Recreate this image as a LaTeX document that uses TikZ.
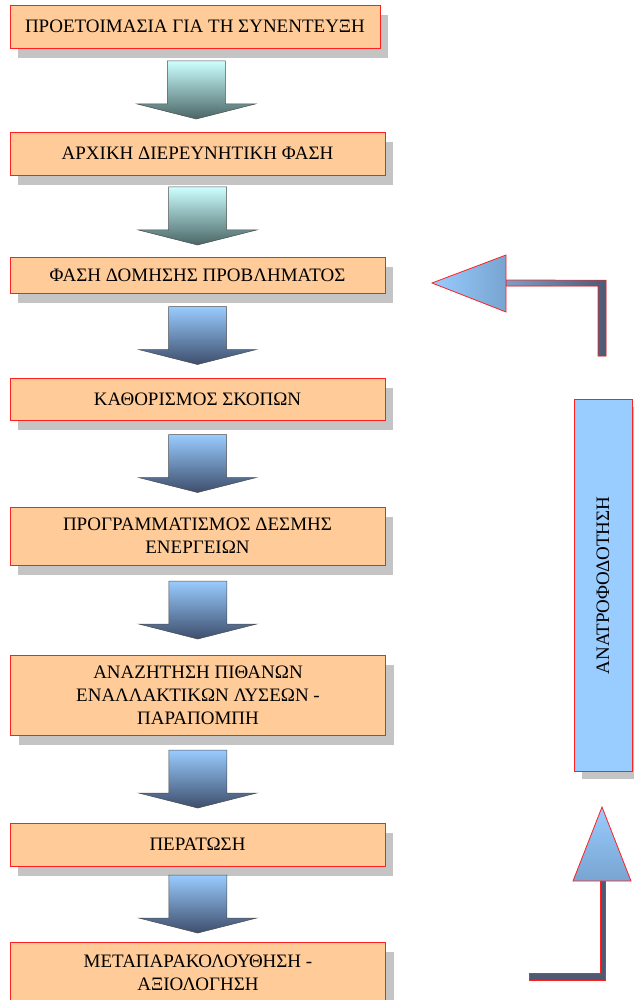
\documentclass[tikz,border=0pt]{standalone}
\usepackage{fontspec}
\setmainfont{Liberation Serif}
\usetikzlibrary{calc,shadows}
\definecolor{peach}{HTML}{FFCC99}
\definecolor{boxred}{HTML}{FF2020}
\definecolor{shadowgray}{HTML}{C4C4C4}
\definecolor{skyblue}{HTML}{99CCFF}
\definecolor{deepblue}{HTML}{78A4D0}
\definecolor{paleaqua}{HTML}{CCFFFF}
\definecolor{darkteal}{HTML}{4A6666}
\definecolor{slate}{HTML}{3E4E6C}
\definecolor{shaftgray}{HTML}{4E5A74}
\NewDocumentCommand\flowarrow{mmm}{%
  \path ($(#1.south)!0.5!(#2.north)$) coordinate (m);
  \draw[#3] ($(m)+(-29,-29)$) -- ($(m)+(29,-29)$) -- ($(m)+(29,14)$) -- ($(m)+(59,14)$)
    -- ($(m)+(0,29)$) -- ($(m)+(-59,14)$) -- ($(m)+(-29,14)$) -- cycle;}

\begin{document}
\begin{tikzpicture}[x=1pt,y=-1pt,
    stepbox/.style={draw=boxred,fill=peach,line width=0.8pt,minimum width=375pt,align=center,
      font=\fontsize{19}{23}\selectfont,
      general shadow={fill=shadowgray,shadow xshift=8pt,shadow yshift=-10pt}},
    fbbox/.style={draw=boxred,fill=skyblue,line width=0.8pt,minimum width=58pt,minimum height=372pt,
      font=\fontsize{19}{23}\selectfont,
      general shadow={fill=shadowgray,shadow xshift=8pt,shadow yshift=-7pt}},
    tealarrow/.style={draw=black!70,line width=0.5pt,top color=paleaqua,bottom color=darkteal},
    bluearrow/.style={draw=black!70,line width=0.5pt,top color=skyblue,bottom color=slate},
    bentshaft/.style={draw=boxred,line width=0.6pt,fill=shaftgray},
    benthead/.style={draw=boxred,line width=0.8pt}]
            \useasboundingbox (0,0) rectangle (633,1000);
            \node[stepbox,minimum width=370pt,minimum height=43pt] (A) at (195,26.5) {ΠΡΟΕΤΟΙΜΑΣΙΑ ΓΙΑ ΤΗ ΣΥΝΕΝΤΕΥΞΗ};
            \node[stepbox,minimum height=43pt] (B) at (197.5,153.5) {ΑΡΧΙΚΗ ΔΙΕΡΕΥΝΗΤΙΚΗ ΦΑΣΗ};
            \node[stepbox,minimum height=36pt] (C) at (197.5,275) {ΦΑΣΗ ΔΟΜΗΣΗΣ ΠΡΟΒΛΗΜΑΤΟΣ};
            \node[stepbox,minimum height=42pt] (D) at (197.5,399) {ΚΑΘΟΡΙΣΜΟΣ ΣΚΟΠΩΝ};
            \node[stepbox,minimum height=58pt] (E) at (197.5,536) {ΠΡΟΓΡΑΜΜΑΤΙΣΜΟΣ ΔΕΣΜΗΣ\\ΕΝΕΡΓΕΙΩΝ};
            \node[stepbox,minimum height=80pt] (F) at (198,695) {ΑΝΑΖΗΤΗΣΗ ΠΙΘΑΝΩΝ\\ΕΝΑΛΛΑΚΤΙΚΩΝ ΛΥΣΕΩΝ -\\ΠΑΡΑΠΟΜΠΗ};
            \node[stepbox,minimum height=43pt] (G) at (197.5,844.5) {ΠΕΡΑΤΩΣΗ};
            \node[stepbox,minimum height=62pt] (H) at (198,973) {ΜΕΤΑΠΑΡΑΚΟΛΟΥΘΗΣΗ -\\ΑΞΙΟΛΟΓΗΣΗ};
            \node[fbbox] (R) at (603,585.5) {\rotatebox{90}{ΑΝΑΤΡΟΦΟΔΟΤΗΣΗ}};
            \flowarrow{A}{B}{tealarrow}
            \flowarrow{B}{C}{tealarrow}
            \flowarrow{C}{D}{bluearrow}
            \flowarrow{D}{E}{bluearrow}
            \flowarrow{E}{F}{bluearrow}
            \flowarrow{F}{G}{bluearrow}
            \flowarrow{G}{H}{bluearrow}
            \coordinate (top) at ($(R.north)+(0,-43)$);
            \coordinate (low) at (529,976);
            \draw[bentshaft,left color=skyblue!60!shaftgray,right color=shaftgray]
              (506,280) -- ($(top)+(3,-76)$) -- ($(top)+(3,0)$) -- ($(top)+(-5,0)$) -- ($(top)+(-5,-70)$) -- (506,286) -- cycle;
            \draw[benthead,left color=skyblue,right color=deepblue] (432,283) -- (506,255) -- (506,312) -- cycle;
            \draw[bentshaft] ($(low)+(0,-3)$) -- (600,973) -- (600,881) -- (605,881) -- (605,980) -- ($(low)+(0,4)$) -- cycle;
            \draw[benthead,top color=skyblue,bottom color=deepblue] (602,807) -- (631,881) -- (573,881) -- cycle;
        \end{tikzpicture}
\end{document}
